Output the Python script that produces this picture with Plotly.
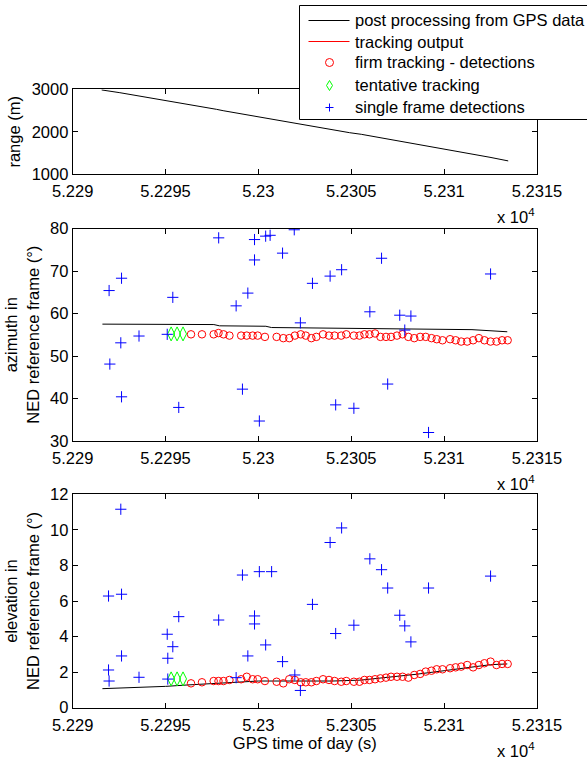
import plotly.graph_objects as go

W, H = 587, 761

# ---------------- data ----------------
# x tick labels (GPS time, shown in units of 1e4 s)
x_tickvals = [52290, 52295, 52300, 52305, 52310, 52315]
x_ticktext = ["5.229", "5.2295", "5.23", "5.2305", "5.231", "5.2315"]

# range from GPS post processing
range_t = [52291.56, 52292.54, 52297.74, 52298.10, 52304.91, 52305.54, 52312.47, 52313.45]
range_m = [2985, 2920, 2529, 2497, 1979, 1941, 1400, 1315]

# azimuth from GPS post processing
gps_az_t = [52291.6, 52297.6, 52297.9, 52300.4, 52300.7, 52304.0, 52308.0, 52311.5, 52313.4]
gps_az = [57.5, 57.4, 57.1, 57.0, 56.7, 56.6, 56.4, 56.2, 55.7]

# elevation from GPS post processing
gps_el_t = [52291.6, 52293.0, 52295.0, 52296.2, 52298.0, 52300.0, 52302.0, 52304.0,
            52305.5, 52307.0, 52308.5, 52310.0, 52311.5, 52312.5, 52313.4]
gps_el = [1.07, 1.12, 1.20, 1.28, 1.38, 1.50, 1.50, 1.50, 1.55, 1.70, 1.88, 2.08, 2.28, 2.42, 2.46]

# firm tracking detections
firm_t = [52296.37, 52296.96, 52297.59, 52297.85, 52298.12, 52298.44, 52299.07, 52299.37,
          52299.69, 52299.96, 52300.35, 52300.98, 52301.34, 52301.66, 52301.96, 52302.28,
          52302.55, 52302.85, 52303.12, 52303.48, 52303.80, 52304.10, 52304.46, 52304.73,
          52305.14, 52305.44, 52305.71, 52305.98, 52306.28, 52306.57, 52306.87, 52307.14,
          52307.46, 52307.76, 52308.07, 52308.39, 52308.71, 52309.01, 52309.32, 52309.60,
          52309.91, 52310.32, 52310.62, 52310.92, 52311.24, 52311.56, 52311.87, 52312.17,
          52312.50, 52312.82, 52313.12, 52313.42]
firm_az = [55.1, 55.1, 55.1, 55.4, 55.1, 54.8, 54.8, 54.8, 54.8, 54.8, 54.5, 54.5,
           54.2, 54.2, 54.8, 55.1, 54.8, 54.2, 54.5, 55.1, 54.8, 54.8, 54.8, 55.1,
           54.8, 54.8, 55.1, 55.1, 55.3, 54.5, 54.5, 54.5, 54.8, 55.1, 54.5, 54.2,
           54.5, 54.5, 54.2, 53.95, 53.7, 53.95, 53.7, 53.4, 53.4, 53.7, 54.2, 53.7,
           53.4, 53.4, 53.7, 53.7]
firm_el = [1.37, 1.43, 1.50, 1.50, 1.50, 1.56, 1.60, 1.74, 1.60, 1.60, 1.50, 1.46,
           1.37, 1.60, 1.56, 1.43, 1.43, 1.43, 1.50, 1.60, 1.56, 1.50, 1.46, 1.50,
           1.46, 1.46, 1.56, 1.56, 1.60, 1.65, 1.69, 1.74, 1.74, 1.74, 1.69, 1.84,
           1.90, 2.03, 2.08, 2.16, 2.16, 2.22, 2.27, 2.31, 2.40, 2.27, 2.40, 2.50,
           2.59, 2.40, 2.46, 2.46]

# tentative tracking
tent_t = [52295.30, 52295.62, 52295.94]
tent_az = [55.2, 55.2, 55.2]
tent_el = [1.62, 1.62, 1.62]

# single frame detections (azimuth panel)
sf_az_t = [52291.96, 52292.00, 52292.63, 52292.59, 52292.63, 52293.57, 52295.09, 52295.39,
           52295.71, 52297.86, 52298.80, 52299.14, 52299.43, 52299.79, 52299.79, 52300.05,
           52300.39, 52300.63, 52301.30, 52301.93, 52302.26, 52302.91, 52303.86, 52304.48,
           52304.16, 52305.14, 52306.63, 52306.00, 52306.96, 52307.61, 52308.21, 52307.88,
           52309.16, 52312.50]
sf_az = [65.4, 48.1, 68.3, 53.1, 40.4, 54.7, 55.1, 63.8, 37.9, 77.8, 61.8, 42.2,
         64.8, 77.4, 72.6, 34.7, 78.2, 78.4, 74.2, 79.7, 57.8, 67.1, 68.8, 70.3,
         38.5, 37.7, 73.0, 60.4, 43.4, 59.6, 59.4, 56.1, 32.0, 69.3]

# single frame detections (elevation panel)
sf_el_t = [52291.93, 52291.93, 52291.96, 52292.59, 52292.63, 52292.63, 52293.57, 52295.09,
           52295.12, 52295.12, 52295.39, 52295.71, 52297.86, 52298.80, 52299.14, 52299.43,
           52299.79, 52299.79, 52300.05, 52300.71, 52300.39, 52301.30, 52301.96, 52302.26,
           52302.91, 52303.86, 52304.48, 52304.16, 52305.14, 52306.00, 52306.63, 52306.96,
           52307.61, 52307.88, 52308.21, 52309.16, 52312.50]
sf_el = [6.28, 2.12, 1.50, 11.16, 6.38, 2.91, 1.71, 4.13, 2.78, 1.61, 3.43, 5.12,
         4.93, 1.69, 7.46, 2.91, 5.16, 4.71, 7.65, 7.65, 3.53, 2.59, 1.84, 0.97,
         5.81, 9.29, 10.11, 4.17, 4.64, 8.37, 7.76, 6.73, 5.20, 4.60, 3.70, 6.73, 7.40]

# legend labels
legend_labels = ["post processing from GPS data", "tracking output",
                 "firm tracking - detections", "tentative tracking",
                 "single frame detections"]

# ---------------- figure ----------------
FONT = "Arial, Liberation Sans, sans-serif"
FS = 16.5
BLACK = "#000000"
RED = "#FF0000"
GREEN = "#00FF00"
BLUE = "#0000FF"

fig = go.Figure()

# top panel
fig.add_trace(go.Scatter(x=range_t, y=range_m, mode="lines", line=dict(color=BLACK, width=1),
                         name=legend_labels[0], xaxis="x", yaxis="y"))

def panel(xa, ya, gt, gv, fv, tv, st, sv):
    fig.add_trace(go.Scatter(x=gt, y=gv, mode="lines", line=dict(color=BLACK, width=1),
                             name=legend_labels[0], xaxis=xa, yaxis=ya))
    fig.add_trace(go.Scatter(x=firm_t, y=fv, mode="markers",
                             marker=dict(symbol="circle-open", size=7.5, color=RED,
                                         line=dict(width=1, color=RED)),
                             name=legend_labels[2], xaxis=xa, yaxis=ya))
    fig.add_trace(go.Scatter(x=tent_t, y=tv, mode="markers",
                             marker=dict(symbol="diamond-tall-open", size=10, color=GREEN,
                                         line=dict(width=1, color=GREEN)),
                             name=legend_labels[3], xaxis=xa, yaxis=ya))
    fig.add_trace(go.Scatter(x=st, y=sv, mode="markers",
                             marker=dict(symbol="cross-thin-open", size=8, color=BLUE,
                                         line=dict(width=1, color=BLUE)),
                             name=legend_labels[4], xaxis=xa, yaxis=ya))

panel("x2", "y2", gps_az_t, gps_az, firm_az, tent_az, sf_az_t, sf_az)
panel("x3", "y3", gps_el_t, gps_el, firm_el, tent_el, sf_el_t, sf_el)

def px_x(v):
    return v / W

def px_y(v):
    return 1 - v / H

XL, XR = 72.7, 537.0
common = dict(showline=True, linecolor=BLACK, linewidth=1, mirror="ticks", ticks="inside",
              ticklen=5, tickcolor=BLACK, showgrid=False, zeroline=False, automargin=False,
              tickfont=dict(size=FS, color=BLACK, family=FONT))

def xaxis(anchor):
    return dict(common, domain=[px_x(XL), px_x(XR)], range=[52290, 52315], anchor=anchor,
                tickmode="array", tickvals=x_tickvals, ticktext=x_ticktext,
                ticklabelstandoff=2)

def yaxis(anchor, top, bottom, rng, dtick, title):
    return dict(common, domain=[px_y(bottom), px_y(top)], range=rng, anchor=anchor,
                tick0=rng[0], dtick=dtick,
                title=dict(text=title, font=dict(size=FS, color=BLACK, family=FONT), standoff=6))

fig.update_layout(
    template="none",
    width=W, height=H,
    margin=dict(l=0, r=0, t=0, b=0, pad=0),
    paper_bgcolor="white", plot_bgcolor="white",
    font=dict(family=FONT, size=FS, color=BLACK),
    showlegend=False,
    xaxis=xaxis("y"),
    yaxis=yaxis("x", 89.3, 174.3, [1000, 3000], 1000, "range (m)"),
    xaxis2=xaxis("y2"),
    yaxis2=yaxis("x2", 228.5, 441.0, [30, 80], 10, "azimuth in<br>NED reference frame (°)"),
    xaxis3=dict(xaxis("y3"), title=dict(text="GPS time of day (s)",
                                        font=dict(size=FS, color=BLACK, family=FONT), standoff=4)),
    yaxis3=yaxis("x3", 494.3, 707.7, [0, 12], 2, "elevation in<br>NED reference frame (°)"),
)

# exponent labels under each x axis
for yc in (216, 483, 750):
    fig.add_annotation(text="x 10<sup>4</sup>", xref="paper", yref="paper",
                       x=px_x(537), y=px_y(yc), xanchor="right", yanchor="middle",
                       showarrow=False, font=dict(size=FS, color=BLACK, family=FONT))

# ---------------- legend box (MATLAB style, runs past right edge) ----------------
LX0, LX1, LY0, LY1 = 299.5, 600, 5.5, 119.5
fig.add_shape(type="rect", xref="paper", yref="paper", layer="above",
              x0=px_x(LX0), x1=px_x(LX1), y0=px_y(LY1), y1=px_y(LY0),
              fillcolor="white", line=dict(color=BLACK, width=1))
row_y = [20.5, 41.5, 62.5, 85.5, 107.5]
SX0, SX1, MX = 308.5, 349.5, 329.5
# line samples
for yy, col in ((row_y[0], BLACK), (row_y[1], RED)):
    fig.add_shape(type="line", xref="paper", yref="paper", layer="above",
                  x0=px_x(SX0), x1=px_x(SX1), y0=px_y(yy), y1=px_y(yy),
                  line=dict(color=col, width=1))
# circle sample
fig.add_shape(type="circle", xref="paper", yref="paper", layer="above",
              x0=px_x(MX - 4), x1=px_x(MX + 4), y0=px_y(row_y[2] + 4), y1=px_y(row_y[2] - 4),
              line=dict(color=RED, width=1))
# diamond sample
dy = row_y[3]
fig.add_shape(type="path", xref="paper", yref="paper", layer="above",
              path=(f"M {px_x(MX)} {px_y(dy - 5)} L {px_x(MX + 3)} {px_y(dy)} "
                    f"L {px_x(MX)} {px_y(dy + 5)} L {px_x(MX - 3)} {px_y(dy)} Z"),
              line=dict(color=GREEN, width=1))
# plus sample
py_ = row_y[4]
fig.add_shape(type="line", xref="paper", yref="paper", layer="above",
              x0=px_x(MX - 4), x1=px_x(MX + 4), y0=px_y(py_), y1=px_y(py_),
              line=dict(color=BLUE, width=1))
fig.add_shape(type="line", xref="paper", yref="paper", layer="above",
              x0=px_x(MX), x1=px_x(MX), y0=px_y(py_ - 4), y1=px_y(py_ + 4),
              line=dict(color=BLUE, width=1))
for lab, yy in zip(legend_labels, row_y):
    fig.add_annotation(text=lab, xref="paper", yref="paper", x=px_x(353), y=px_y(yy),
                       xanchor="left", yanchor="middle", showarrow=False,
                       font=dict(size=FS, color=BLACK, family=FONT))

fig.write_html("out.html")
